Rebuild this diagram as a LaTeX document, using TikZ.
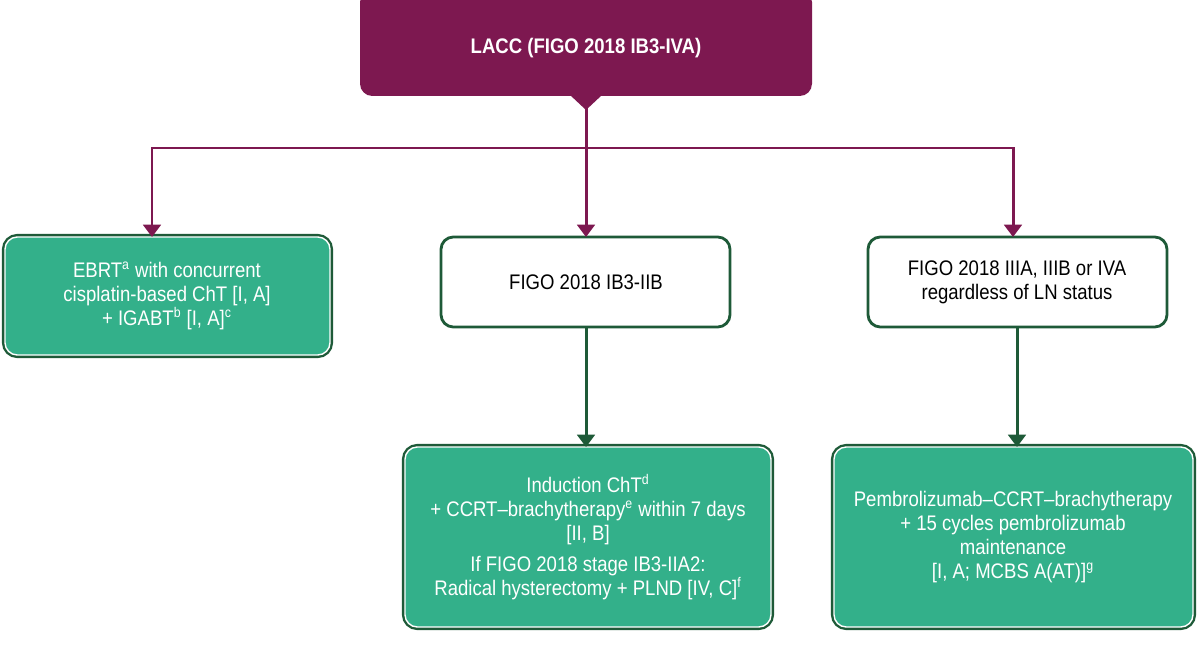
\documentclass[tikz,border=0pt]{standalone}
\usepackage{fontspec}
\setmainfont{Liberation Sans}[FakeStretch=0.88]
\usetikzlibrary{arrows.meta}
\definecolor{plum}{HTML}{7D1850}
\definecolor{leaf}{HTML}{33B08A}
\definecolor{forest}{HTML}{1E5A38}
\tikzset{
  greenbox/.style={rounded corners=7pt,fill=leaf,text=white,draw=white,line width=0.8pt,
    preaction={draw=forest,line width=3.5pt},align=center,font=\fontsize{12}{13.6}\selectfont},
  whitebox/.style={rounded corners=7pt,fill=white,text=black!85,draw=forest,line width=1.6pt,
    align=center,font=\fontsize{12}{13.6}\selectfont},
  plumarrow/.style={draw=plum,line width=1.7pt,-{Triangle[width=10pt,length=7pt]}},
  greenarrow/.style={draw=forest,line width=1.7pt,-{Triangle[width=10pt,length=7pt]}}
}
\begin{document}
\begin{tikzpicture}[x=0.02cm,y=-0.02cm]
  \useasboundingbox (0,0) rectangle (1200,645);
  \path[fill=plum,rounded corners=7pt] (360,-10) rectangle (812,96);
  \node[text=white,font=\bfseries\fontsize{12}{14}\selectfont] (top) at (586,48) {LACC (FIGO 2018 IB3-IVA)};
  \fill[plum] (570,95) -- (602,95) -- (586,110) -- cycle;
  \coordinate (tip) at (586,108);
  \coordinate (split) at (586,148);

  \path[greenbox] (5,237) rectangle (330,355);
  \node[text=white,align=center,font=\fontsize{12}{13.6}\selectfont] (ebrt) at (167,296)
    {EBRT\textsuperscript{a} with concurrent\\cisplatin-based ChT [I, A]\\+ IGABT\textsuperscript{b} [I, A]\textsuperscript{c}};
  \path[whitebox] (441,237) rectangle (730,327);
  \node[font=\fontsize{12}{13.6}\selectfont] (early) at (586,282) {FIGO 2018 IB3-IIB};
  \path[whitebox] (868,237) rectangle (1167,327);
  \node[align=center,font=\fontsize{12}{13.6}\selectfont] (late) at (1017,282)
    {FIGO 2018 IIIA, IIIB or IVA\\regardless of LN status};
  \path[greenbox] (405,447) rectangle (771,627);
  \node[text=white,align=center,font=\fontsize{12}{13.6}\selectfont] (induct) at (588,537)
    {Induction ChT\textsuperscript{d}\\+ CCRT–brachytherapy\textsuperscript{e} within 7 days\\{}[II, B]\\[4pt]
     If FIGO 2018 stage IB3-IIA2:\\Radical hysterectomy + PLND [IV, C]\textsuperscript{f}};
  \path[greenbox] (834,447) rectangle (1193,627);
  \node[text=white,align=center,font=\fontsize{12}{13.6}\selectfont] (pembro) at (1013,537)
    {Pembrolizumab–CCRT–brachytherapy\\+ 15 cycles pembrolizumab\\maintenance\\{}[I, A; MCBS A(AT)]\textsuperscript{g}};

  \draw[draw=plum,line width=1.7pt] (tip) -- (split);
  \draw[plumarrow] (split) -| (152,237);
  \draw[plumarrow] (split) -- (586,237);
  \draw[plumarrow] (split) -| (1013,237);
  \draw[greenarrow] (586,327) -- (586,447);
  \draw[greenarrow] (1017,327) -- (1017,447);
\end{tikzpicture}
\end{document}
